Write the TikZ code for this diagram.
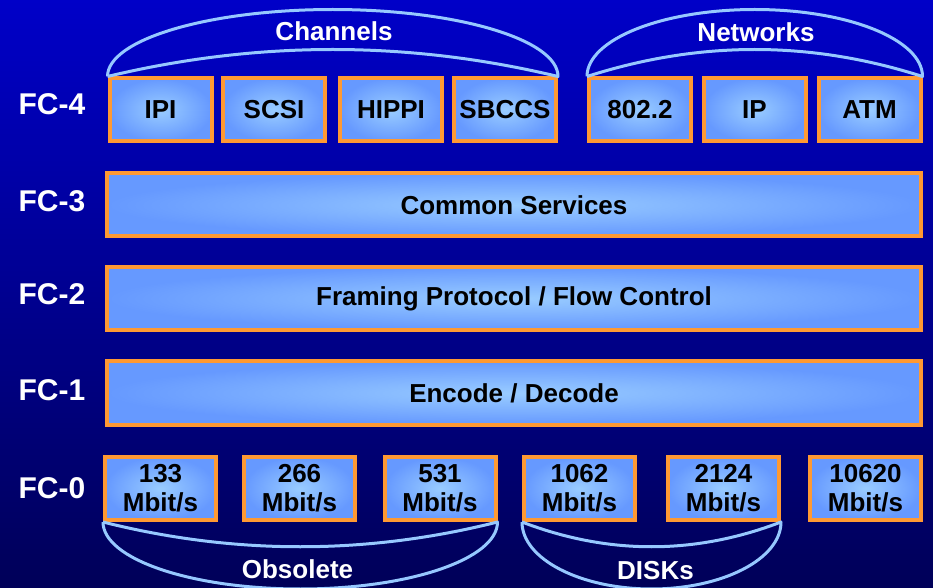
\documentclass[tikz,border=0pt]{standalone}
\usepackage{fontspec}
\setmainfont{Liberation Sans}
\usetikzlibrary{calc}

\definecolor{bgtop}{RGB}{0,0,200}
\definecolor{bgbot}{RGB}{0,0,88}
\definecolor{boxin}{RGB}{153,204,255}
\definecolor{boxout}{RGB}{102,153,255}
\definecolor{rim}{RGB}{255,153,51}
\definecolor{arcblue}{RGB}{150,200,255}

\begin{document}
\begin{tikzpicture}[x=0.75pt, y=-0.75pt,
  layer/.style={draw=rim, line width=3pt, inner color=boxin, outer color=boxout,
    minimum height=47.25pt, inner sep=0pt, align=center,
    font=\fontsize{19.5}{22}\selectfont\bfseries},
  protobox/.style={layer, minimum width=76.5pt},
  ratebox/.style={layer, minimum width=83.25pt},
  widebox/.style={layer, minimum width=610.5pt},
  fclabel/.style={text=white, font=\fontsize{22.5}{26}\selectfont\bfseries},
  grouplabel/.style={text=white, anchor=base, font=\fontsize{19.5}{22}\selectfont\bfseries},
  grouparc/.style={draw=arcblue, line width=2.25pt, line join=round}]

% Background
\useasboundingbox (0,0) rectangle (933,588);
\clip (0,0) rectangle (933,588);
\shade[top color=bgtop, bottom color=bgbot] (0,0) rectangle (933,588);

% Layer names
\node[fclabel] (fc4) at (52,104) {FC-4};
\node[fclabel] (fc3) at (52,201) {FC-3};
\node[fclabel] (fc2) at (52,294) {FC-2};
\node[fclabel] (fc1) at (52,390) {FC-1};
\node[fclabel] (fc0) at (52,488) {FC-0};

% FC-4 protocols
\node[protobox] (ipi) at (160.5,110) {IPI};
\node[protobox] (scsi) at (274,110) {SCSI};
\node[protobox] (hippi) at (391,110) {HIPPI};
\node[protobox] (sbccs) at (505,110) {SBCCS};
\node[protobox] (n8022) at (640,110) {802.2};
\node[protobox] (ip) at (754.5,110) {IP};
\node[protobox] (atm) at (869.5,110) {ATM};

% FC-3 .. FC-1
\node[widebox] (common) at (514,205) {Common Services};
\node[widebox] (framing) at (514,298.5) {Framing Protocol / Flow Control};
\node[widebox] (encode) at (514,393) {Encode / Decode};

% FC-0 speeds
\node[ratebox] (r133) at (160.5,488.5) {133\\Mbit/s};
\node[ratebox] (r266) at (299.5,488.5) {266\\Mbit/s};
\node[ratebox] (r531) at (440,488.5) {531\\Mbit/s};
\node[ratebox] (r1062) at (579.5,488.5) {1062\\Mbit/s};
\node[ratebox] (r2124) at (723.5,488.5) {2124\\Mbit/s};
\node[ratebox] (r10620) at (865.5,488.5) {10620\\Mbit/s};

% Groups above FC-4
\draw[grouparc] (ipi.north west) .. controls +(0,-37) and +(-124,0)
  .. ($(ipi.north west)!.5!(sbccs.north east)+(0,-67)$)
  .. controls +(124,0) and +(0,-37) .. (sbccs.north east)
  .. controls +(-150,-36) and +(150,-36) .. (ipi.north west);
\node[grouplabel] (channels) at (334,41) {Channels};

\draw[grouparc] (n8022.north west) .. controls +(0,-37) and +(-93,0)
  .. ($(n8022.north west)!.5!(atm.north east)+(0,-67)$)
  .. controls +(93,0) and +(0,-37) .. (atm.north east)
  .. controls +(-112,-36) and +(112,-36) .. (n8022.north west);
\node[grouplabel] (networks) at (756,42) {Networks};

% Groups below FC-0
\draw[grouparc] (r133.south west) .. controls +(0,37) and +(-109,0)
  .. ($(r133.south west)!.5!(r531.south east)+(0,67)$)
  .. controls +(109,0) and +(0,37) .. (r531.south east)
  .. controls +(-131,33) and +(131,33) .. (r133.south west);
\node[grouplabel] (obsolete) at (297.5,578) {Obsolete};

\draw[grouparc] (r1062.south west) .. controls +(0,37) and +(-71,0)
  .. ($(r1062.south west)!.5!(r2124.south east)+(0,67)$)
  .. controls +(71,0) and +(0,37) .. (r2124.south east)
  .. controls +(-86,33) and +(86,33) .. (r1062.south west);
\node[grouplabel] (disks) at (655.5,579) {DISKs};

\end{tikzpicture}
\end{document}
